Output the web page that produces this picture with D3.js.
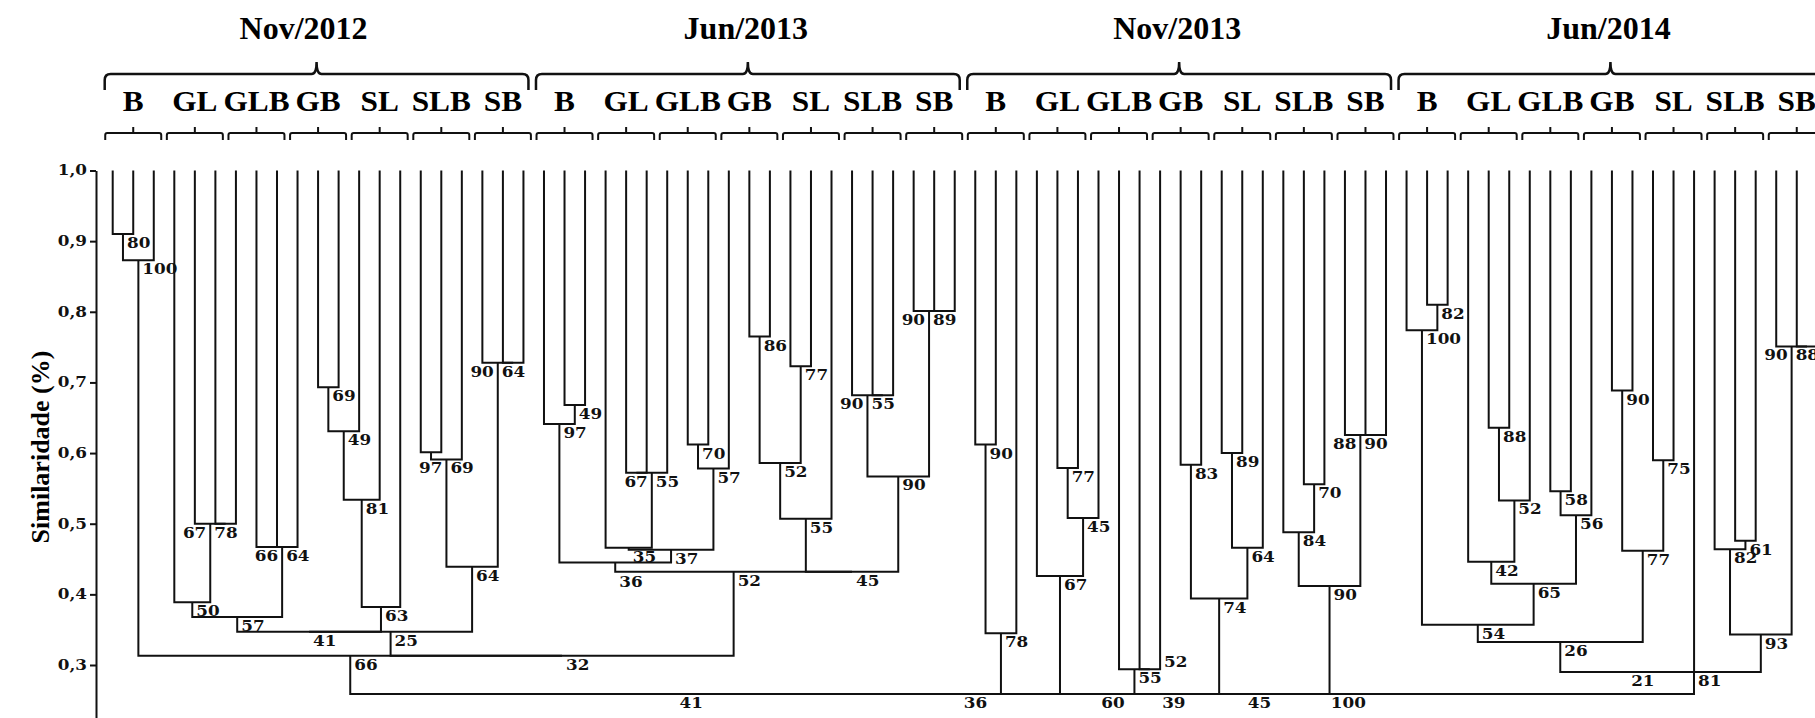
<!DOCTYPE html>
<html>
<head>
<meta charset="utf-8">
<script src="https://cdn.jsdelivr.net/npm/d3@7"></script>
<style>
  body { margin: 0; background: #fff; }
  svg { display: block; }
</style>
</head>
<body>
<script>
var periods = ["Nov/2012", "Jun/2013", "Nov/2013", "Jun/2014"];
var treatments = ["B", "GL", "GLB", "GB", "SL", "SLB", "SB"];
var yTicks = [1.0, 0.9, 0.8, 0.7, 0.6, 0.5, 0.4, 0.3];

// clades: [similarity, bootstrap, left, right]; a leaf is the sample index (0..83)
var nov12A = [0.873, 100, [0.910, 80, 0, 1], 2];
var nov12Y = [0.347, 25,
  [0.347, 41,
    [0.368, 57,
      [0.389, 50, 3, [0.500, 78, 4, [0.500, 67, 5, 6]]],
      [0.467, 64, [0.467, 66, 7, 8], 9]],
    [0.382, 63, [0.534, 81, [0.631, 49, [0.693, 69, 10, 11], 12], 13], 14]],
  [0.439, 64,
    [0.591, 69, [0.601, 97, 15, 16], 17],
    [0.728, 64, 18, [0.728, 90, 19, 20]]]];
var jun13 = [0.432, 52,
  [0.445, 36,
    [0.641, 97, 21, [0.668, 49, 22, 23]],
    [0.463, 37,
      [0.466, 35, 24, [0.572, 55, [0.572, 67, 25, 26], 27]],
      [0.578, 57, [0.612, 70, 28, 29], 30]]],
  [0.432, 45,
    [0.507, 55, [0.586, 52, [0.765, 86, 31, 32], [0.723, 77, 33, 34]], 35],
    [0.567, 90,
      [0.682, 55, 36, [0.682, 90, 37, 38]],
      [0.801, 89, 39, [0.801, 90, 40, 41]]]]];
var nov13B = [0.345, 78, [0.612, 90, 42, 43], 44];
var nov13GL = [0.426, 67, 45, [0.508, 45, [0.579, 77, 46, 47], 48]];
var nov13GLB = [0.294, 55, 49, [0.294, 52, 50, 51]];
var nov13GBSL = [0.394, 74, [0.5835, 83, 52, 53], [0.466, 64, [0.600, 89, 54, 55], 56]];
var nov13SS = [0.412, 90,
  [0.488, 84, 57, [0.556, 70, 58, 59]],
  [0.6255, 90, 60, [0.6255, 88, 61, 62]]];
var jun14 = [0.290, 81,
  [0.290, 21,
    [0.3325, 26,
      [0.357, 54,
        [0.774, 100, 63, [0.810, 82, 64, 65]],
        [0.415, 65,
          [0.446, 42, 66, [0.533, 52, [0.636, 88, 67, 68], 69]],
          [0.512, 56, [0.546, 58, 70, 71], 72]]],
      [0.4616, 77, [0.6885, 90, 73, 74], [0.590, 75, 75, 76]]],
    77],
  [0.343, 93,
    [0.464, 82, 78, [0.476, 61, 79, 80]],
    [0.751, 88, 81, [0.751, 90, 82, 83]]]];

var tree = [0.259, 100,
  [0.259, 36,
    [0.259, 41, [0.313, 66, nov12A, [0.313, 32, nov12Y, jun13]], nov13B],
    [0.259, 45, [0.259, 39, [0.259, 60, nov13GL, nov13GLB], nov13GBSL], nov13SS]],
  jun14];

// label placement that differs from the default (keyed by first-last sample)
var labelMode = { "15-16": "shared", "21-30": "below", "50-51": "above" };

var width = 1815, height = 718;

var svg = d3.select("body").append("svg").attr("width", width).attr("height", height);

var x = d3.scaleLinear().domain([0, 83]).range([112.7, 1817.3]);
var y = d3.scaleLinear().domain([1, 0.3]).range([170.5, 665]);
var step = x(1) - x(0);
var serif = "'Liberation Serif', 'Times New Roman', serif";

// headers
var nPer = treatments.length * 3;
periods.forEach(function(p, i) {
  var x0 = x(i * nPer) - 8, x1 = x(i * nPer + nPer - 1) + 5, cx = (x0 + x1) / 2;
  svg.append("text").text(p)
    .attr("x", cx - (i === 0 ? 13 : 2)).attr("y", 39)
    .style("font-family", serif)
    .style("font-weight", "bold").style("font-size", "32px")
    .style("text-anchor", "middle");
  svg.append("path")
    .attr("d", "M" + x0 + ",90 L" + x0 + ",80 Q" + x0 + ",74 " + (x0 + 6) + ",74 L" + (cx - 5) + ",74 Q" + cx + ",74 " + cx + ",62 Q" + cx + ",74 " + (cx + 5) + ",74 L" + (x1 - 6) + ",74 Q" + x1 + ",74 " + x1 + ",80 L" + x1 + ",90")
    .style("fill", "none").style("stroke", "#111").style("stroke-width", 2.5);
  treatments.forEach(function(t, k) {
    var c = x(i * nPer + k * 3 + 1);
    svg.append("text").text(t)
      .attr("transform", "translate(" + c + ",111) scale(1.08,1)")
      .style("font-family", serif)
      .style("font-weight", "bold").style("font-size", "29px")
      .style("text-anchor", "middle");
    svg.append("path")
      .attr("d", "M" + (c - 28) + ",140 L" + (c - 28) + ",135 Q" + (c - 28) + ",133 " + (c - 26) + ",133 L" + (c + 26) + ",133 Q" + (c + 28) + ",133 " + (c + 28) + ",135 L" + (c + 28) + ",140 M" + c + ",133 L" + c + ",127")
      .style("fill", "none").style("stroke", "#111").style("stroke-width", 2);
  });
});

// y axis
var yAx = d3.scaleLinear().domain([1, y.invert(height + 2)]).range([y(1), height + 2]);
var axis = svg.append("g").attr("transform", "translate(96,0)")
  .call(d3.axisLeft(yAx).tickValues(yTicks).tickSize(6).tickSizeOuter(0)
    .tickFormat(function(d) { return d3.format(".1f")(d).replace(".", ","); }));
axis.select(".domain").style("stroke", "#111").style("stroke-width", 2);
axis.selectAll(".tick line").style("stroke", "#111").style("stroke-width", 2);
axis.selectAll(".tick text")
  .attr("x", -7.5).attr("transform", "scale(1.2,1)")
  .style("font-family", "'DejaVu Serif', serif").style("font-weight", "bold")
  .style("font-size", "14px").style("fill", "#111");

svg.append("text").text("Similaridade (%)")
  .attr("transform", "translate(49,447) rotate(-90)")
  .style("font-family", serif)
  .style("font-weight", "bold").style("font-size", "26px")
  .style("text-anchor", "middle");

// dendrogram
var root = d3.hierarchy(tree, function(d) { return Array.isArray(d) ? [d[2], d[3]] : null; });
root.eachAfter(function(n) {
  if (n.children) {
    n.h = n.data[0];
    n.b = n.data[1];
    n.px = (n.children[0].px + n.children[1].px) / 2;
    n.first = n.children[0].first;
    n.last = n.children[1].last;
  } else {
    n.h = 1;
    n.px = x(n.data);
    n.first = n.last = n.data;
  }
  n.py = y(n.h);
});

var inner = root.descendants().filter(function(n) { return n.children; });

svg.append("g").selectAll("path").data(inner).enter().append("path")
  .attr("d", function(n) {
    var a = n.children[0], b = n.children[1];
    return "M" + a.px + "," + a.py + "V" + n.py + "H" + b.px + "V" + b.py;
  })
  .style("fill", "none").style("stroke", "#111").style("stroke-width", 2)
  .style("stroke-linejoin", "miter");

function labelPos(n) {
  var key = n.first + "-" + n.last, p = n.parent;
  var mode = labelMode[key];
  if (!mode) {
    mode = (p && Math.abs(p.h - n.h) < 0.004 && Math.abs(p.px - n.px) < 1.6 * step) ? "shared" : "right";
  }
  if (mode === "shared") return [p.px - 4, p.py + 14, "end"];
  if (mode === "below") return [n.px + 4, p.py + 15, "start"];
  if (mode === "above") return [n.children[1].px + 4, n.py - 2, "start"];
  return [n.px + 4, n.py + 14, "start"];
}

svg.append("g").selectAll("text").data(inner).enter().append("text")
  .text(function(n) { return n.b; })
  .attr("transform", function(n) { var q = labelPos(n); return "translate(" + q[0] + "," + q[1] + ") scale(1.2,1)"; })
  .style("text-anchor", function(n) { return labelPos(n)[2]; })
  .style("font-family", "'DejaVu Serif', serif").style("font-weight", "bold")
  .style("font-size", "14px").style("fill", "#111");
</script>
</body>
</html>
